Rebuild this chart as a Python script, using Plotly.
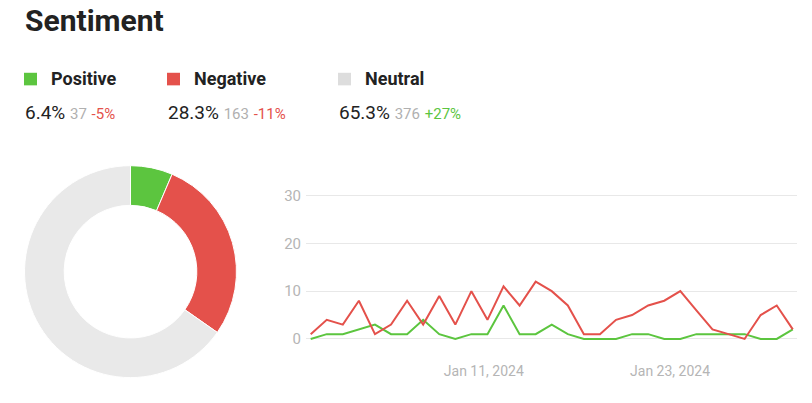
import plotly.graph_objects as go
import pandas as pd

labels = ["Positive", "Negative", "Neutral"]
counts = [37, 163, 376]
shares = ["6.4%", "28.3%", "65.3%"]
changes = ["-5%", "-11%", "+27%"]
colors = ["#5cc53f", "#e4514b", "#e9e9e9"]
change_colors = ["#e4514b", "#e4514b", "#5cc53f"]

days = pd.date_range("2024-01-01", "2024-01-31", freq="D")
positive = [0, 1, 1, 2, 3, 1, 1, 4, 1, 0, 1, 1, 7, 1, 1, 3, 1, 0, 0, 0,
            1, 1, 0, 0, 1, 1, 1, 1, 0, 0, 2]
negative = [1, 4, 3, 8, 1, 3, 8, 3, 9, 3, 10, 4, 11, 7, 12, 10, 7, 1, 1, 4,
            5, 7, 8, 10, 6, 2, 1, 0, 5, 7, 2]

tick_pos = ["2024-01-11 18:29", "2024-01-23 08:38"]
tick_text = ["Jan 11, 2024", "Jan 23, 2024"]

W, H = 812, 403
FONT = "Roboto"

fig = go.Figure()

fig.add_trace(go.Pie(
    labels=labels, values=counts, hole=0.626, sort=False,
    direction="clockwise", rotation=0,
    marker=dict(colors=colors, line=dict(color="white", width=1)),
    textinfo="none", hoverinfo="label+value+percent", showlegend=False,
    domain=dict(x=[21 / W, 240 / W], y=[1 - 384 / H, 1 - 165 / H]),
))

fig.add_trace(go.Scatter(x=days, y=positive, mode="lines", name="Positive",
                         line=dict(color=colors[0], width=2), showlegend=False))
fig.add_trace(go.Scatter(x=days, y=negative, mode="lines", name="Negative",
                         line=dict(color=colors[1], width=2), showlegend=False))

fig.update_layout(
    width=W, height=H,
    margin=dict(l=0, r=0, t=0, b=0),
    paper_bgcolor="white", plot_bgcolor="white",
    font=dict(family=FONT, color="#222"),
    xaxis=dict(domain=[306 / W, 797 / W],
               range=["2023-12-31 17:00", "2024-01-31 06:15"],
               tickvals=tick_pos, ticktext=tick_text, showgrid=False,
               zeroline=False, showline=False, ticks="",
               ticklabelstandoff=20,
               tickfont=dict(size=14, color="#b5b5b5")),
    yaxis=dict(domain=[1 - 346.5 / H, 1 - 193.5 / H], range=[-0.5, 30.5],
               tickvals=[0, 10, 20, 30], showgrid=True, gridcolor="#e8e8e8",
               gridwidth=1, zeroline=False, showline=False, ticks="",
               ticklabelstandoff=4,
               tickfont=dict(size=15, color="#b5b5b5")),
)

annotations = [dict(x=23 / W, y=1 + 5 / H, xref="paper", yref="paper",
                    xanchor="left", yanchor="top", showarrow=False,
                    text="<b>Sentiment</b>",
                    font=dict(size=30, color="#222", family=FONT))]

sq_x = [24, 167, 338]
txt_x = [49, 192, 363]
for i, name in enumerate(labels):
    fig.add_shape(type="rect", xref="paper", yref="paper",
                  x0=sq_x[i] / W, x1=(sq_x[i] + 13) / W,
                  y0=1 - 82 / H, y1=1 - 69 / H,
                  fillcolor=colors[i] if i < 2 else "#dddddd",
                  line=dict(width=0))
    annotations.append(dict(x=txt_x[i] / W, y=1 - 75 / H, xref="paper",
                            yref="paper", xanchor="left", yanchor="middle",
                            showarrow=False, text="<b>%s</b>" % name,
                            font=dict(size=18, color="#222", family=FONT)))
    annotations.append(dict(
        x=(sq_x[i] - 1) / W, y=1 - 110 / H, xref="paper", yref="paper",
        xanchor="left", yanchor="middle", showarrow=False,
        text="%s <span style='font-size:15px;color:#b0b0b0'>%d</span> "
             "<span style='font-size:15px;color:%s'>%s</span>"
             % (shares[i], counts[i], change_colors[i], changes[i]),
        font=dict(size=19, color="#222", family=FONT)))

fig.update_layout(annotations=annotations)

fig.write_html("out.html", config={"displayModeBar": False},
               post_script="document.body.style.margin='0';"
                           "document.body.style.overflow='hidden';")
